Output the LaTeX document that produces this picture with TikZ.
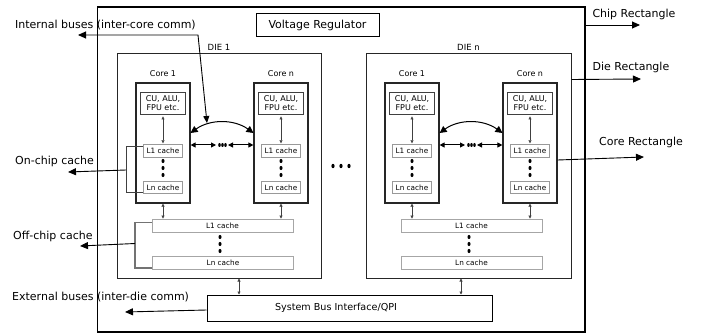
\documentclass[tikz,border=0pt]{standalone}
\usepackage{fontspec}
\setmainfont{DejaVu Sans}
\usetikzlibrary{arrows.meta,calc}
\begin{document}
\begin{tikzpicture}[x=1pt,y=-1pt,
  box/.style={draw,rectangle,inner sep=0pt,anchor=center},
  chipbox/.style={box,line width=1.4pt,draw=black},
  diebox/.style={box,line width=1pt,draw=black!85},
  corebox/.style={box,line width=1.2pt,draw=black!85,minimum width=54pt,minimum height=120pt},
  cubox/.style={box,line width=0.9pt,draw=black!75,minimum width=45pt,minimum height=22pt,align=center,font=\fontsize{8}{9.5}\selectfont},
  cachebox/.style={box,line width=0.8pt,draw=black!40,minimum width=39pt,minimum height=12.5pt,font=\fontsize{7.3}{8}\selectfont},
  sharedbox/.style={box,line width=0.8pt,draw=black!35,minimum width=141pt,minimum height=13pt,font=\fontsize{7.3}{8}\selectfont},
  lbl/.style={inner sep=0pt,font=\fontsize{11}{13}\selectfont},
  smalllbl/.style={inner sep=0pt,font=\fontsize{8}{10}\selectfont},
  dielbl/.style={inner sep=0pt,font=\fontsize{8.5}{10}\selectfont},
  dotv/.style={fill=black,draw=none},
  tiny/.style={{Triangle[length=3pt,width=3pt]}-{Triangle[length=3pt,width=3pt]},line width=0.6pt,draw=black!75,fill=black!75},
  bigarr/.style={-{Triangle[length=8pt,width=7pt]},line width=0.9pt},
  arcarr/.style={{Triangle[length=7pt,width=7pt]}-{Triangle[length=7pt,width=7pt]},line width=1pt},
  busarr/.style={{Triangle[length=5pt,width=5pt]}-{Triangle[length=5pt,width=5pt]},line width=1pt},
  brack/.style={line width=1pt,draw=black!75},
  brackg/.style={line width=1.2pt,draw=black!55}
]
\useasboundingbox (0,0) rectangle (707,334);

% chip
\node[chipbox,minimum width=487.5pt,minimum height=325pt] (chip) at (341.25,169.5) {};
\node[box,line width=1pt,minimum width=123pt,minimum height=23pt,font=\fontsize{11}{13}\selectfont] (vr) at (317.5,25.5) {Voltage Regulator};

% dies
\node[diebox,minimum width=204pt,minimum height=224pt] (die1) at (219,166) {};
\node[diebox,minimum width=205pt,minimum height=224pt] (dien) at (468.5,166) {};
\node[dielbl] (die1l) at (219,47) {DIE 1};
\node[dielbl] (dienl) at (468.5,47) {DIE n};

% cores
\foreach \nm/\cx/\lab in {a/163/1,b/281/n,c/412/1,d/530/n}{
  \node[corebox] (core\nm) at (\cx,143) {};
  \node[smalllbl] (core\nm l) at (\cx,74) {Core \lab};
  \node[cubox] (cu\nm) at (\cx,103) {CU, ALU,\\FPU etc.};
  \node[cachebox] (lone\nm) at (\cx,151) {L1 cache};
  \node[cachebox] (lnn\nm) at (\cx,187.5) {Ln cache};
  \draw[tiny] ($(cu\nm.south)+(0,2)$) -- ($(lone\nm.north)+(0,-1)$);
  \foreach \yy in {161,168,175}{
    \fill[dotv] (\cx,\yy) ellipse (1.5pt and 2.1pt);
  }
}

% shared caches
\node[sharedbox] (sl1a) at (222.5,225.5) {L1 cache};
\node[sharedbox] (slna) at (223,263) {Ln cache};
\node[sharedbox] (sl1b) at (471.5,225.5) {L1 cache};
\node[sharedbox] (slnb) at (471.5,263) {Ln cache};
\foreach \xx in {220,469}{
  \foreach \yy in {237,244,251}{
    \fill[dotv] (\xx,\yy) ellipse (1.5pt and 2.1pt);
  }
}
\draw[tiny] (corea.south) -- (corea.south |- sl1a.north);
\draw[tiny] (coreb.south) -- (coreb.south |- sl1a.north);
\draw[tiny] (corec.south) -- (corec.south |- sl1b.north);
\draw[tiny] (cored.south) -- (cored.south |- sl1b.north);

% inter-core buses
\draw[arcarr] (corea.east |- 0,133) .. controls (210,119) and (234,119) .. (coreb.west |- 0,133);
\draw[arcarr] (corec.east |- 0,133) .. controls (459,119) and (483,119) .. (cored.west |- 0,133);
\foreach \l/\r/\o in {corea/coreb/0,corec/cored/249}{
  \draw[busarr] (\l.east |- 0,145) -- (216+\o,145);
  \draw[busarr] (228+\o,145) -- (\r.west |- 0,145);
  \foreach \xx in {219.5,222.5,225.5}{
    \fill[dotv] (\xx+\o,145) ellipse (1.3pt and 2pt);
  }
}

% dies between
\foreach \xx in {333,341,349}{
  \fill[dotv] (\xx,166) ellipse (1.6pt and 2.2pt);
}

% system bus
\node[box,line width=1pt,minimum width=285pt,minimum height=26pt] (sbi) at (349.5,308) {};
\node[inner sep=0pt,font=\fontsize{9.6}{11}\selectfont] (sbit) at (336,308) {System Bus Interface/QPI};
\draw[tiny] (die1.south -| 239,0) -- (sbi.north -| 239,0);
\draw[tiny] (dien.south -| 461,0) -- (sbi.north -| 461,0);

% left labels
\node[lbl,anchor=west] (ibl) at (15,25) {Internal buses (inter-core comm)};
\node[lbl,anchor=west] (ocl) at (15,161) {On-chip cache};
\node[lbl,anchor=west] (ofl) at (13,236) {Off-chip cache};
\node[lbl,anchor=west] (ebl) at (12,297) {External buses (inter-die comm)};

\coordinate (ibc) at (198,35);
\coordinate (ibend) at (78,35);
\coordinate (ibtip) at (207,123);
\draw[{Triangle[length=7pt,width=6pt]}-{Triangle[length=8pt,width=7pt]},line width=0.9pt] (ibtip) -- (ibc) -- (ibend);

% on-chip bracket
\coordinate (ocb) at (126,170);
\coordinate (ocend) at (68,172);
\draw[brack] ($(lonea.west)+(0,-4)$) -- (126,147) -- (126,192.5) -- ($(lnna.west)+(0,5)$);
\draw[bigarr] (ocb) -- (ocend);

% off-chip bracket
\coordinate (ofb) at (135,243.5);
\coordinate (ofend) at (80,246);
\draw[brackg] ($(sl1a.west)+(0,-3)$) -- (135,222.5) -- (135,268) -- ($(slna.west)+(0,5)$);
\draw[bigarr] (ofb) -- (ofend);

% external bus
\coordinate (ebend) at (125,312);
\draw[bigarr] (sbi.west |- 0,310) -- (ebend);

% right labels
\node[lbl] (chl) at (634,14) {Chip Rectangle};
\node[lbl] (dil) at (631,67) {Die Rectangle};
\node[lbl] (col) at (641,142) {Core Rectangle};
\coordinate (chend) at (640,25);
\coordinate (diend) at (641,79);
\coordinate (coend) at (644,157);
\draw[bigarr] (chip.east |- 0,25) -- (chend);
\draw[bigarr] (dien.east |- 0,79.5) -- (diend);
\draw[bigarr] (cored.east |- 0,160) -- (coend);
\end{tikzpicture}
\end{document}
